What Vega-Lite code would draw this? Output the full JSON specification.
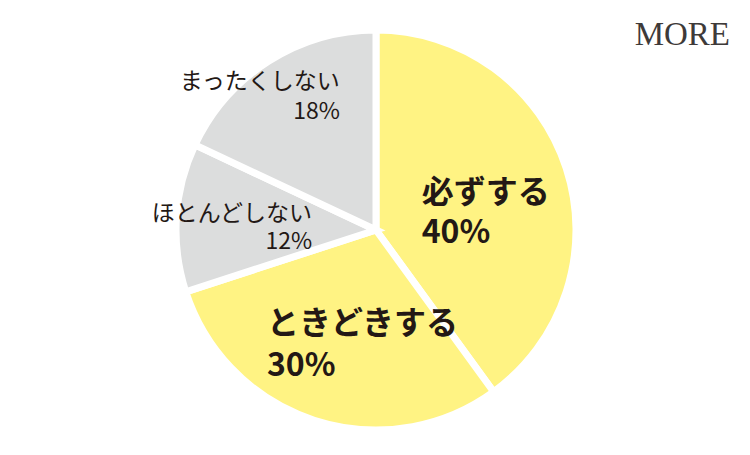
{
  "$schema": "https://vega.github.io/schema/vega-lite/v6.json",
  "autosize": {"type": "none"},
  "padding": {"top": 45, "left": 0, "right": 0, "bottom": 40},
  "width": 752,
  "height": 370,
  "background": "white",
  "config": {"view": {"stroke": null}},
  "title": {
    "text": "MORE",
    "anchor": "end",
    "frame": "group",
    "orient": "top",
    "baseline": "alphabetic",
    "offset": 2,
    "dx": -22,
    "dy": 64,
    "font": "Liberation Serif",
    "fontSize": 33,
    "fontWeight": "normal",
    "color": "#3E3A39"
  },
  "data": {
    "values": [
      {"ord": 1, "label": "必ずする", "pct": "40%", "value": 40},
      {"ord": 2, "label": "ときどきする", "pct": "30%", "value": 30},
      {"ord": 3, "label": "ほとんどしない", "pct": "12%", "value": 12},
      {"ord": 4, "label": "まったくしない", "pct": "18%", "value": 18}
    ]
  },
  "transform": [
    {"stack": "value", "groupby": [], "sort": [{"field": "ord"}], "as": ["v0", "v1"]},
    {"calculate": "(datum.v0 + datum.v1) / 2", "as": "mid"},
    {"calculate": "datum.label + '\\n' + datum.pct", "as": "txt"}
  ],
  "layer": [
    {
      "mark": {"type": "arc", "outerRadius": 200, "stroke": "white", "strokeWidth": 7},
      "encoding": {
        "theta": {"field": "v0", "type": "quantitative", "scale": {"domain": [0, 100], "range": [0, 6.2832]}},
        "theta2": {"field": "v1"},
        "color": {
          "field": "label",
          "type": "nominal",
          "scale": {
            "domain": ["必ずする", "ときどきする", "ほとんどしない", "まったくしない"],
            "range": ["#FFF383", "#FFF383", "#DCDDDD", "#DCDDDD"]
          },
          "legend": null
        }
      }
    },
    {
      "transform": [{"filter": "datum.ord == 1"}],
      "mark": {"type": "text", "align": "left", "baseline": "middle", "lineBreak": "\n", "lineHeight": 40, "font": "Noto Sans CJK JP", "fontWeight": "bold", "fontSize": 32, "letterSpacing": 1.5, "color": "#231815", "dy": -22},
      "encoding": {
        "theta": {"field": "mid", "type": "quantitative", "scale": {"domain": [0, 100], "range": [0, 6.2832]}},
        "radius": {"value": 48},
        "text": {"field": "txt"}
      }
    },
    {
      "transform": [{"filter": "datum.ord == 2"}],
      "mark": {"type": "text", "align": "left", "baseline": "middle", "lineBreak": "\n", "lineHeight": 42, "font": "Noto Sans CJK JP", "fontWeight": "bold", "fontSize": 32, "letterSpacing": 1.5, "color": "#231815", "dx": -72, "dy": -20},
      "encoding": {
        "theta": {"field": "mid", "type": "quantitative", "scale": {"domain": [0, 100], "range": [0, 6.2832]}},
        "radius": {"value": 120},
        "text": {"field": "txt"}
      }
    },
    {
      "transform": [{"filter": "datum.ord == 3"}],
      "mark": {"type": "text", "align": "right", "baseline": "middle", "lineBreak": "\n", "lineHeight": 28, "font": "Noto Sans CJK JP", "fontSize": 23, "color": "#231815", "dy": -12},
      "encoding": {
        "theta": {"field": "mid", "type": "quantitative", "scale": {"domain": [0, 100], "range": [0, 6.2832]}},
        "radius": {"value": 64},
        "text": {"field": "txt"}
      }
    },
    {
      "transform": [{"filter": "datum.ord == 4"}],
      "mark": {"type": "text", "align": "right", "baseline": "middle", "lineBreak": "\n", "lineHeight": 30, "font": "Noto Sans CJK JP", "fontSize": 23, "color": "#231815", "dx": 48, "dy": -15},
      "encoding": {
        "theta": {"field": "mid", "type": "quantitative", "scale": {"domain": [0, 100], "range": [0, 6.2832]}},
        "radius": {"value": 157},
        "text": {"field": "txt"}
      }
    }
  ]
}
